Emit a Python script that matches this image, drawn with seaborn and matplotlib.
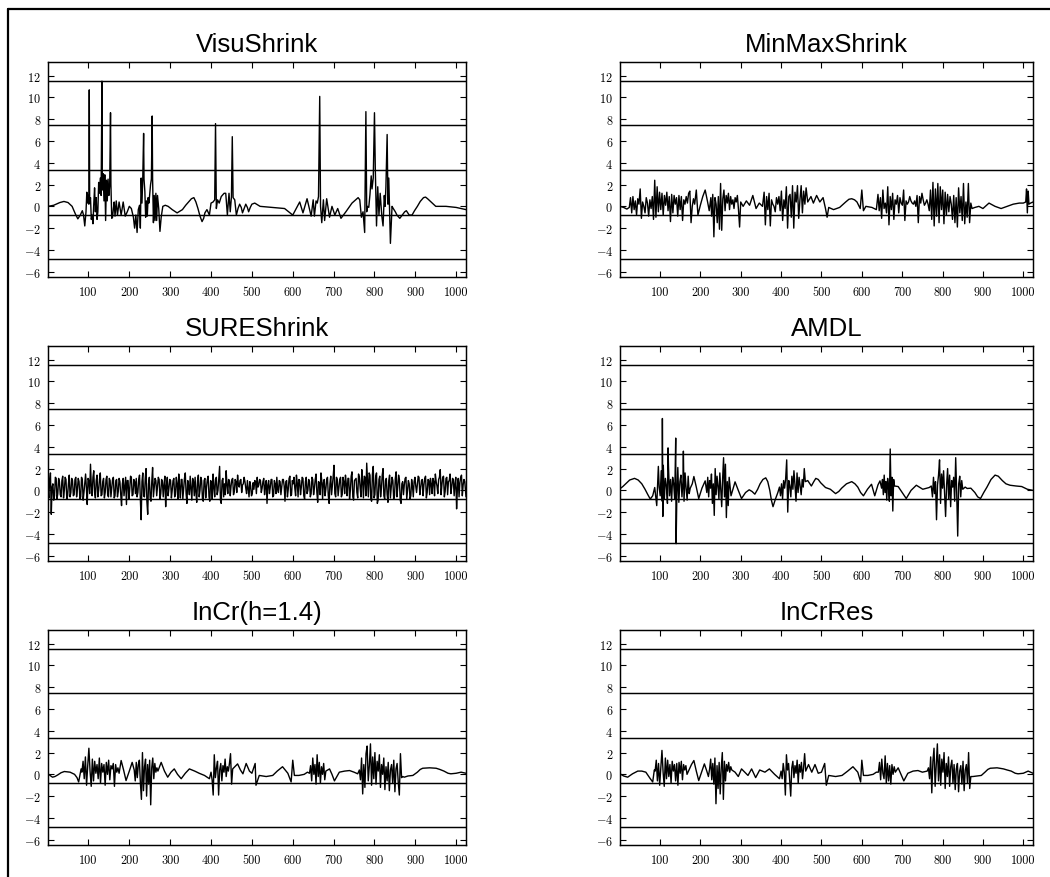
import numpy as np
import matplotlib
matplotlib.use("Agg")
import matplotlib.pyplot as plt
from matplotlib.lines import Line2D
from matplotlib.ticker import FixedLocator, FuncFormatter
import seaborn as sns

# ---------------------------------------------------------------- data
TITLES = ["VisuShrink", "MinMaxShrink", "SUREShrink", "AMDL", "InCr(h=1.4)", "InCrRes"]

# horizontal reference levels drawn across every panel
LEVELS = [-4.85, -0.75, 3.35, 7.45, 11.55]

X_TICKS = [100, 200, 300, 400, 500, 600, 700, 800, 900, 1000]
Y_TICKS = [-6, -4, -2, 0, 2, 4, 6, 8, 10, 12]

# Each estimate: explicit (x, y) knots plus dense bursts given as (x_start, x_end, values)
VISU_KNOTS = [
    (1, 0.0), (15, 0.1), (30, 0.35), (40, 0.45), (50, 0.35), (60, 0.0), (68, -0.7), (74, -1.15),
    (80, -0.8), (85, -0.4), (88, -0.8), (91, -1.8), (94, -0.5), (96, 1.3), (98, 0.3), (100, 1.0),
    (101, 0.2), (102, 10.7), (103, 0.3), (105, 0.8), (107, -1.2), (109, -0.8), (111, -1.6),
    (113, 0.2), (115, 1.7), (117, -0.5), (119, 0.8), (121, -1.2), (123, -0.5), (125, 2.2),
    (127, 1.2), (129, 2.6), (131, 1.0), (133, 11.5), (134, 1.5), (136, 3.0), (138, 0.5),
    (140, 2.9), (142, -1.3), (144, 2.4), (146, 0.5), (148, 2.5), (150, 1.0), (152, 2.0),
    (154, 8.6), (155, 2.0), (157, -1.1), (159, -1.0), (161, -0.2), (163, 0.4), (165, -0.9),
    (168, 0.5), (171, -0.8), (175, 0.4), (180, -0.8), (185, 0.4), (190, -0.9), (195, -0.5),
    (200, 0.0), (205, -0.2), (210, -1.0), (213, -2.0), (216, -0.8), (219, -2.4), (222, -0.3),
    (225, 0.1), (227, -2.0), (229, 2.6), (231, 0.3), (233, 2.7), (235, 6.7), (236, 2.5),
    (238, 1.4), (240, -1.0), (242, 0.5), (244, -0.9), (246, 0.8), (248, 0.3), (250, 1.2),
    (252, 2.0), (254, 2.5), (256, 8.3), (257, 2.5), (259, -1.5), (261, 1.0), (263, -1.3),
    (265, 1.2), (267, -1.3), (269, 1.0), (272, -0.2), (275, -2.3), (278, -1.0), (282, 0.0),
    (288, 0.1), (295, 0.0), (305, -0.3), (317, -0.6), (330, -0.3), (338, 0.1), (345, 0.4),
    (352, 0.7), (358, 0.8), (363, 0.4), (368, -0.2), (373, -0.9), (378, -1.4), (382, -1.1),
    (385, -0.6), (390, -0.3), (396, -0.8), (400, 0.3), (405, 0.4),
    (409, 0.6), (411, 7.6), (413, -0.2), (416, 0.6), (420, 0.3), (425, 0.9), (432, 1.2),
    (436, 1.2), (440, -0.8), (444, 1.2), (447, -0.5), (450, 0.9), (452, 6.4), (454, 0.8),
    (458, 0.6), (462, -0.8), (466, -0.2), (470, 0.2), (474, -0.1), (477, -0.6), (481, -0.2),
    (485, 0.2), (489, -0.1), (492, -0.5), (496, -0.1), (500, 0.2),
    (507, 0.3), (520, 0.0), (550, -0.1), (580, -0.2), (600, -0.8), (610, -0.1), (617, 0.4),
    (625, -0.6), (635, 0.7), (645, -0.9), (650, 0.6), (653, -0.9), (657, 0.5), (660, 0.3),
    (663, 0.9), (666, 10.1), (668, 0.0), (671, -1.5), (675, 0.6), (678, -1.3), (683, 0.7),
    (690, -1.0), (696, 0.0), (703, -0.8), (710, -0.2), (718, -1.1), (730, -0.5), (745, 0.3),
    (760, 0.8), (764, 0.6), (768, -1.0), (772, -0.5), (776, -2.4), (779, 8.7), (781, -0.5),
    (783, 0.0), (786, -0.1), (789, 1.1), (792, 2.8), (794, 1.6), (797, 2.6), (800, 8.6),
    (802, 3.5), (805, -1.8), (808, 1.8), (811, -0.8), (814, 1.2), (818, -0.9), (821, -1.8),
    (824, 1.0), (826, 0.0), (828, 1.8), (831, 6.6), (833, 0.2), (835, 2.6), (839, -3.4),
    (843, 0.0), (846, -0.2), (851, -0.5), (855, -0.8), (862, -1.1), (866, -0.9), (870, -0.7),
    (874, -0.5), (878, -0.4), (885, -0.8), (892, -0.8), (898, -0.4), (905, 0.0), (912, 0.45),
    (920, 0.8), (925, 0.85), (930, 0.7), (940, 0.35), (950, 0.0), (975, 0.0), (1000, -0.1),
    (1024, -0.3),
]
VISU_BURSTS = []

MINMAX_KNOTS = [
    (1, 0.0), (10, -0.1), (18, -0.25), (24, -0.1),
    (186, 0.2), (190, 1.5), (194, -0.8), (200, 0.1), (206, 0.9), (212, 1.5), (218, 0.4),
    (222, -0.4), (226, 0.8),
    (306, 0.0), (314, 0.5), (322, 0.1), (330, 1.0), (338, -0.2), (346, 0.3), (354, 0.0),
    (466, 0.4), (474, 0.9), (480, 0.3), (488, 1.0), (496, 0.4), (504, 0.8), (510, -0.2),
    (514, -1.0), (518, -0.1), (530, -0.3), (545, -0.1), (560, 0.4), (568, 0.65), (575, 0.7),
    (582, 0.6), (588, 0.4),
    (596, -0.2), (600, 1.5), (604, -0.4), (610, 0.0), (625, -0.1), (636, -0.3),
    (880, -0.1), (890, 0.0), (900, -0.2), (915, 0.3), (930, 0.0), (945, -0.2), (960, 0.0),
    (975, 0.2), (990, 0.3), (1000, 0.3), (1006, 0.4), (1008, 1.6), (1010, -0.6), (1012, 1.4),
    (1014, 0.2), (1018, 0.3), (1024, 0.4),
]
MINMAX_BURSTS = [
    (27, 183, [0.8, -0.6, 0.9, -0.3, 0.5, -0.8, 0.7, 0.2, 1.6, -1.1, 0.4, 0.0, -0.6, 0.8, 0.3,
               -0.9, 0.6, -0.2, 0.9, -1.2, 2.4, -1.0, 1.8, -0.5, 1.3, -0.3, 1.2, -0.8, 1.0, 0.1,
               1.3, -0.4, 0.9, -1.4, 1.1, -0.6, 1.0, 0.2, 0.8, -0.9, 1.0, -0.3, 0.9, -1.3, 0.6,
               0.2, 0.9, 0.3, 1.2, 1.4, -1.5, 0.0, 0.7]),
    (228, 300, [-0.9, 1.1, -2.8, 0.8, 0.2, -1.5, 0.9, -2.1, 2.1, -2.2, 0.7, 1.5, -0.4, 1.0, 0.3,
                1.2, -0.3, 0.9, 0.2, 0.6, -0.2, 0.8, 0.4, 1.0, -0.3, -1.9, 0.4]),
    (358, 462, [1.3, -1.7, 0.9, -0.3, 1.2, -1.8, 0.6, 0.2, 0.0, -0.5, 0.8, 0.2, 0.9, -0.4, 1.4,
                -1.3, 0.6, -0.2, 1.8, -2.0, 0.9, 1.1, -1.0, 1.9, -2.0, 1.3, 0.4, 1.9, -1.1, 0.6,
                1.9, -0.6, 1.4, 0.2, 1.7]),
    (640, 873, [1.1, -0.4, 0.8, -1.1, 1.5, -0.2, 0.3, -0.6, 1.8, -1.7, 0.9, -0.3, 1.2, -1.2, 0.6,
                0.2, 1.0, -0.6, 0.8, 0.3, 0.1, 1.5, -1.3, 0.5, 0.2, 0.4, 0.9, 0.5, 0.3, 0.2, 0.5,
                0.0, 1.0, -1.5, 0.9, 0.3, 1.2, 0.6, 0.1, 0.3, 0.6, 0.2, -0.4, 1.5, -1.2, 2.2,
                -1.8, 1.6, -0.9, 2.1, -1.5, 1.8, -0.3, 1.5, -1.6, 1.3, -0.8, 1.1, -0.5, 0.9, 0.2,
                -1.2, 1.0, -1.5, 0.8, -1.9, 1.7, -0.6, 0.9, -1.3, 2.1, -1.6, 0.4, -1.0, 2.1, -1.5,
                0.3, -0.2]),
]

SURE_KNOTS = [(1024, -0.6)]
SURE_BURSTS = [
    (1, 1021, [
        0.2, 0.9, -2.2, 0.6, -0.5, 1.1, -0.3, 0.8, -0.6, 1.3, 0.0, 1.0, -0.5, 1.4, -0.2, 0.9,
        -0.4, 1.2, 0.1, 0.8, -0.6, 1.0, -0.2, 1.5, -1.3, 0.9, 2.4, -0.5, 1.8, -0.7, 1.4, 0.0,
        1.6, -0.4, 1.1, -0.2, 1.3, -0.6, 0.9, 0.2, 1.2, -0.5, 1.0, -0.1, 0.8, -1.4, 1.1, 0.3,
        -1.3, 0.9, 0.1, 1.2, -0.4, 0.8, 1.1, -0.2, 1.4, -2.7, 1.6, -0.6, 2.0, -2.2, 1.2, -1.0,
        2.1, 0.3, 0.9, 0.4, 1.0, -0.3, 0.8, 0.5, -1.5, 1.2, 0.2, 0.9, 0.0, 1.1, -0.4, 0.6,
        1.5, -0.7, 1.0, 0.2, 1.6, -1.2, 0.4, 1.3, -0.9, 0.8, 1.2, -1.1, 1.4, 0.0, 0.9, -1.0,
        1.1, 0.3, 1.3, -1.0, 0.7, 1.5, -0.6, 1.2, 0.0, 2.2, -1.2, 1.1, 0.6, 1.8, -0.3, 0.9,
        0.4, 1.1, -0.1, 0.8, 1.4, 0.3, 1.0, 0.5, 1.2, 0.2, 0.9, -0.6, 0.4, -0.3, 0.1, 0.8,
        1.2, 0.5, 0.9, 0.2, 1.1, 0.4, -1.2, 0.9, 0.3, 1.0, -0.5, 0.6, 1.2, -0.2, 0.8, 0.3,
        1.0, -1.0, 0.9, 0.1, 1.3, -0.4, 0.6, 0.2, 1.4, -0.6, 0.9, 0.3, 1.1, -0.8, 1.2, 0.0,
        0.8, -0.3, 1.0, 0.2, 1.5, -1.1, 0.7, 1.6, -0.8, 1.0, 0.1, 1.2, -1.2, 1.3, 0.4, 2.3,
        -0.6, 1.0, 0.3, 1.2, -0.4, 0.8, 1.4, -0.5, 1.1, 0.0, 1.7, -0.9, 1.0, -0.2, 1.5, 0.2,
        1.9, -0.7, 1.2, 2.5, -0.6, 1.4, -1.0, 2.2, -0.4, 1.6, -0.9, 1.3, 0.2, 2.0, -0.8, 1.1,
        -1.1, 1.4, 0.2, 0.9, -0.5, 1.7, 0.3, 1.0, -1.2, 0.8, 0.5, 1.2, 0.1, 0.6, -0.5, 0.4,
        0.8, 0.4, 0.6, 1.2, 0.2, 1.0, 0.5, 1.3, -0.2, 0.9, 1.1, -0.3, 0.8, 1.5, 0.4, 1.0,
        1.9, 0.5, 1.3, -0.1, 1.2, 0.8, 1.5, 0.3, 1.0, 0.6, -1.7, 1.1, 0.7, 1.4, 0.5, 0.8,
    ]),
    (3, 1023, [
        -0.7, 1.6, 0.3, -0.9, 1.2, -0.8, 1.1, -0.4, 0.9, -0.7, 1.2, -0.8, 0.6, -0.6, 1.1, -0.5,
        1.0, -0.6, 1.1, -0.8, 1.2, -0.9, 0.7, 0.2, 1.1, -0.3, 0.4, 1.2, -0.2, 0.9, -0.6, 1.0,
        -0.5, 0.8, -0.7, 1.0, -0.4, 1.1, -0.6, 1.0, -0.7, 0.9, -0.6, 1.1, -0.4, 0.6, -0.5, 1.2,
        0.9, -0.8, 1.3, -0.5, 1.0, -0.3, -0.6, 1.0, -0.8, 0.8, -0.5, 1.1, -1.0, 0.6, -0.7, 0.8,
        -0.6, 1.1, -0.5, 1.2, -0.8, 1.0, -0.6, 1.3, 0.4, -0.5, 1.0, -0.7, 0.9, -0.6, 1.2, -0.8,
        0.3, 1.0, -0.8, 1.1, -0.3, 0.9, -0.4, 0.2, 1.1, -0.5, -0.2, 0.9, -0.6, 1.2, -0.8, 0.9,
        -0.7, 1.0, -0.6, 0.9, -0.8, 0.3, 1.0, -0.4, 1.1, -0.9, 0.9, -0.6, -0.4, 0.5, 1.0, -0.5,
        1.0, -0.4, 1.0, -0.2, 0.5, 0.9, -0.2, 0.6, 0.8, -0.3, 0.1, 0.8, -0.5, 0.7, 0.9, -0.3,
        0.3, 1.0, -0.2, 0.8, -0.4, 0.9, 0.5, -0.3, 1.0, -0.6, 0.9, -0.3, 0.1, 0.9, -0.4, 1.0,
        0.4, 0.8, -0.6, 1.1, -0.5, 0.9, 1.2, -0.5, 0.7, 1.0, -0.4, 1.2, -0.5, 0.8, -0.3, 1.0,
        -0.6, 1.2, -0.4, 1.0, -0.2, 0.8, -0.4, 0.9, 0.7, -0.5, 1.0, -0.5, 0.6, -0.4, 1.3, -0.3,
        1.2, -0.5, 1.0, -0.6, 1.2, -0.3, 0.6, 1.1, -0.8, 1.3, -0.6, 0.9, 1.1, -0.7, 1.2, -0.6,
        0.8, 1.3, -0.5, 1.0, 1.6, -0.8, 1.5, -0.7, 1.3, -1.2, 1.0, -0.6, 1.4, -0.5, 0.9, -0.4,
        0.9, -0.7, 1.2, -0.8, 1.1, -0.6, 1.4, -0.9, 0.6, -0.4, 1.1, -0.8, 0.9, -0.8, 1.0, -0.6,
        1.2, -0.2, 1.3, -0.4, 0.9, -0.5, 1.1, -0.7, 1.0, -0.4, 0.6, 1.1, -0.5, 0.8, -0.3, 1.2,
        -0.4, 1.2, -0.6, 1.1, -0.4, 0.9, -0.3, 1.1, -0.5, 1.2, 0.2, -0.6, 1.2, -0.5, 1.0, -0.2,
    ]),
]

AMDL_KNOTS = [
    (1, 0.15), (8, 0.35), (15, 0.6), (25, 0.95), (37, 1.1), (46, 0.95), (55, 0.6), (63, 0.1),
    (70, -0.4), (76, -0.8), (82, -0.5), (87, 0.26),
    (92, -1.4), (96, 2.2), (106, 6.6), (107, -2.4), (120, 3.9), (139, 4.8), (140, -4.9),
    (158, 3.6),
    (180, 0.6), (184, 1.27), (190, 0.3), (196, -0.75), (204, 0.2), (212, 0.87),
    (286, 0.78), (294, 0.0), (302, -0.75), (312, -0.2), (321, 0.05), (328, -0.1), (335, -0.35),
    (342, 0.1), (348, 0.6), (355, 1.0), (362, 1.15), (367, 0.8), (372, 0.0), (376, -0.9),
    (380, -1.5), (386, -0.8), (392, -0.2),
    (466, 0.9), (475, 0.4), (481, 0.8), (486, 1.1), (492, 1.0), (498, 0.7), (510, 0.26),
    (522, 0.1), (535, -0.3), (543, -0.1), (550, 0.2), (562, 0.6), (575, 0.8), (583, 0.6),
    (590, 0.3), (597, -0.2), (604, -0.5), (614, 0.1), (624, 0.56), (632, -0.5),
    (640, 0.5), (645, 0.87),
    (690, 0.35), (700, -0.2), (710, -0.75), (722, 0.0), (735, 0.47), (751, 0.1), (767, 0.26),
    (772, 0.4),
    (856, 0.3), (861, 0.17), (870, 0.2), (880, -0.2), (887, -0.6), (894, -0.75), (902, -0.2),
    (910, 0.3), (920, 1.0), (930, 1.4), (938, 1.3), (948, 0.9), (957, 0.6), (967, 0.47),
    (982, 0.4), (996, 0.35), (1010, 0.1), (1024, 0.0),
]
AMDL_BURSTS = [
    (98, 175, [0.3, -0.5, 1.8, -1.0, 2.3, -0.8, 1.1, 0.4, -1.2, 2.2, -0.5, 1.0, -1.0, 1.2, 0.6,
               -0.8, 3.2, -0.9, 2.1, -1.1, 0.8, 1.4, -0.6, 0.9, -1.0, 1.6, 0.2, -0.9, 1.3, -0.3,
               0.2]),
    (216, 276, [-0.2, 1.2, -0.6, 0.9, 0.2, 1.5, -1.2, 0.6, -2.3, 2.0, -0.4, 1.3, 0.4, -0.8, 1.6,
                0.1, -1.5, 1.1, 3.0, -0.6, 2.4, -2.5, 0.8, -1.4, 1.2, 0.3, -0.5]),
    (396, 460, [0.3, -0.5, 0.6, -0.8, 0.9, 0.2, 1.1, 2.8, -2.0, 0.9, 0.4, -0.6, 1.3, 0.1, 1.8,
                0.5, -1.0, 1.6, -0.2, 1.2, 0.4, -0.4, 1.0, 0.3, 2.0, 0.8]),
    (649, 681, [0.2, 1.0, -0.4, 1.4, -0.2, 0.8, -0.9, 1.1, 0.3, -1.0, 3.8, -0.5, 1.2, -1.9, 1.0,
                0.4]),
    (775, 850, [-0.6, 1.2, -0.3, 0.8, -2.7, 0.5, 1.4, 2.8, -1.2, 1.5, 0.2, 1.8, -0.4, -2.4, 0.5,
                2.0, -0.8, 1.4, -1.5, 0.9, 0.3, 1.2, -1.0, 3.0, -0.2, -4.2, 0.6, 1.3, -0.6, 0.9,
                0.1]),
]

INCR_KNOTS = [
    (1, 0.05), (6, -0.1), (12, -0.26), (18, -0.2), (25, -0.05), (33, 0.15), (41, 0.26),
    (55, 0.2), (66, 0.0), (72, -0.3), (76, -0.7), (82, 0.5),
    (180, 1.27), (186, 0.4), (192, -0.57), (200, 0.3), (207, 1.1),
    (278, 1.1), (286, 0.3), (294, -0.26), (302, 0.2), (310, 0.5), (318, 0.0), (327, -0.4),
    (337, 0.1), (347, 0.5), (360, 0.3), (371, 0.1), (384, -0.1), (396, -0.4),
    (465, 0.96), (472, 0.4), (478, 0.05), (486, 1.0), (494, 0.3), (500, 0.1), (508, 1.0),
    (510, -1.0), (518, -0.1), (535, -0.2), (551, -0.1), (562, 0.3), (575, 0.7), (588, 0.1),
    (596, -0.7), (600, 1.3), (604, -0.1), (615, -0.1), (628, 0.0), (636, 0.2),
    (690, 0.5), (696, 0.0), (702, -0.6), (714, 0.2), (727, 0.3), (739, 0.35), (750, 0.2),
    (759, 0.05),
    (873, -0.26), (882, -0.15), (894, -0.1), (905, 0.2), (912, 0.45), (918, 0.56), (935, 0.6),
    (951, 0.56), (960, 0.45), (970, 0.3), (980, 0.1), (987, 0.05), (1000, 0.1), (1012, 0.2),
    (1024, 0.1),
]
INCR_BURSTS = [
    (84, 175, [0.2, 1.2, -0.4, 1.6, -1.0, 0.8, 2.4, 0.3, -1.1, 1.4, -0.6, 1.2, 0.1, 0.9, -0.4,
               1.5, -0.8, 1.0, 0.2, 0.9, -1.0, 1.1, 0.0, 1.3, -0.5, 0.8, 0.5, 1.0, -1.1, 0.9,
               0.2, 0.6, 0.1]),
    (212, 270, [0.4, -0.6, 1.1, -0.3, 0.9, 1.3, -0.8, -2.3, 2.0, -1.5, 0.7, 1.4, -2.0, 0.9, -0.9,
                1.3, -2.8, 0.6, 1.5, -0.4, 1.0, 0.2, 0.6, 0.3]),
    (400, 453, [0.2, -0.5, -1.9, 1.8, -0.3, 0.6, 1.2, -1.9, 0.4, 1.0, -0.6, 0.8, 0.2, 1.4, -0.2,
                0.7, 0.3, 1.0, 1.9, -0.9, 0.5]),
    (641, 681, [0.1, 0.8, -0.6, 1.5, 0.0, 0.9, -0.9, 1.8, -0.2, 1.1, -0.8, 0.7, 0.0, 1.0, -0.5,
                0.3]),
    (763, 869, [0.4, -0.5, 1.5, -1.8, 0.9, -1.2, 1.9, 2.6, -0.6, 0.8, 2.8, -1.0, 1.6, -0.4, 2.0,
                -0.9, 1.2, 0.3, 1.8, -1.2, 0.9, 0.0, 1.5, -1.4, 0.7, -0.6, 1.1, -1.5, 0.4, 0.9,
                -0.8, 1.3, -1.6, 0.5, 1.0, -0.7, -1.9, 1.9, -0.3, -0.2]),
]

INCRRES_KNOTS = [
    (1, 0.05), (10, -0.15), (20, -0.26), (32, 0.05), (45, 0.3), (55, 0.3), (65, 0.2),
    (76, -0.4), (82, -0.7), (86, 0.4),
    (172, 0.4), (178, 0.9), (184, 1.27), (190, 0.3), (196, -0.57), (203, 0.2), (210, 0.96),
    (216, 0.3), (220, -0.2),
    (286, 0.2), (294, -0.2), (302, 0.5), (310, 0.2), (318, -0.1), (327, 0.5), (337, -0.3),
    (347, 0.4), (360, 0.2), (371, 0.5), (384, 0.0), (396, -0.4),
    (468, 0.9), (476, 0.2), (484, 0.9), (492, 0.1), (500, 0.2), (508, 1.0), (512, -1.0),
    (518, -0.1), (535, -0.2), (551, -0.1), (565, 0.3), (578, 0.7), (590, 0.2), (597, -0.7),
    (600, 1.3), (604, -0.1), (615, -0.1), (628, 0.0), (636, 0.2),
    (690, 0.6), (697, 0.0), (704, -0.6), (714, 0.1), (727, 0.3), (739, 0.35), (750, 0.2),
    (762, 0.3),
    (875, -0.2), (885, -0.15), (896, -0.1), (905, 0.2), (912, 0.45), (918, 0.56), (935, 0.6),
    (951, 0.5), (960, 0.4), (970, 0.3), (980, 0.1), (987, 0.05), (1000, 0.1), (1012, 0.3),
    (1024, 0.1),
]
INCRRES_BURSTS = [
    (88, 167, [0.3, 1.3, -0.6, 1.0, -1.0, 0.6, 2.2, 0.2, -1.1, 1.5, -0.4, 1.3, -0.2, 0.9, -0.8,
               1.2, 0.3, 0.9, -0.6, 1.0, -1.0, 1.1, 0.1, 1.2, -0.5, 0.9, 0.4, 0.8, 0.0]),
    (223, 278, [0.5, 1.4, -0.5, 1.0, -0.9, 1.5, -2.7, 0.8, -1.3, 1.1, -1.8, 0.6, 2.0, -2.3, 1.2,
                -0.6, 0.9, 0.3, 1.1, 0.2, 0.7, 0.4]),
    (400, 461, [0.3, -0.4, 1.0, 0.2, -1.9, 1.8, 0.4, 1.0, -0.5, -2.0, 0.6, 1.2, -0.3, 0.8, 0.1,
                1.3, -0.8, 0.9, 0.2, 1.1, -0.4, 0.6, 1.9, 0.3]),
    (641, 683, [0.2, 1.1, -0.5, 1.4, 0.1, -0.4, 1.7, -0.8, 1.0, -0.6, 0.8, -0.9, 0.9, 0.0, 0.7,
                0.2]),
    (765, 870, [0.6, -0.4, 1.6, -1.7, 1.2, 2.4, -1.1, 0.8, 2.8, -0.6, 1.8, -1.0, 1.4, 0.2, 2.0,
                -1.3, 1.0, -0.2, 1.6, -1.1, 0.7, 1.3, -0.8, 0.9, -1.4, 0.5, 1.0, -1.6, 0.3, 0.8,
                -0.9, 1.2, -1.5, 0.4, 0.9, -0.8, 2.0, -1.3, -0.2]),
]

PANELS = [
    (VISU_KNOTS, VISU_BURSTS),
    (MINMAX_KNOTS, MINMAX_BURSTS),
    (SURE_KNOTS, SURE_BURSTS),
    (AMDL_KNOTS, AMDL_BURSTS),
    (INCR_KNOTS, INCR_BURSTS),
    (INCRRES_KNOTS, INCRRES_BURSTS),
]


def assemble(knots, bursts):
    xs = [k[0] for k in knots]
    ys = [k[1] for k in knots]
    for x0, x1, vals in bursts:
        xs.extend(np.linspace(x0, x1, len(vals)))
        ys.extend(vals)
    xs = np.asarray(xs, dtype=float)
    ys = np.asarray(ys, dtype=float)
    order = np.argsort(xs, kind="stable")
    return xs[order], ys[order]


# ---------------------------------------------------------------- style
sns.set_theme(style="ticks")
plt.rcParams["font.family"] = ["Liberation Sans", "DejaVu Sans"]
plt.rcParams["mathtext.fontset"] = "cm"

W, H = 1050, 878
fig = plt.figure(figsize=(W / 100, H / 100), dpi=100)
fig.patch.set_facecolor("white")

# panel boxes in pixels: (left, top, width, height)
COL_LEFT = [48, 620]
COL_WIDTH = [418, 413]
ROW_TOP = [63, 347, 631]
AX_H = 215

x_fmt = FuncFormatter(lambda v, p: f"{int(round(v))}")
y_fmt = FuncFormatter(lambda v, p: f"${int(round(v))}$")

for i, (title, (knots, bursts)) in enumerate(zip(TITLES, PANELS)):
    r, c = divmod(i, 2)
    left, top, w = COL_LEFT[c], ROW_TOP[r], COL_WIDTH[c]
    ax = fig.add_axes([left / W, 1 - (top + AX_H) / H, w / W, AX_H / H])
    ax.set_facecolor("white")

    for lv in LEVELS:
        ax.axhline(lv, color="black", lw=1.05, zorder=1)

    xs, ys = assemble(knots, bursts)
    sns.lineplot(x=xs, y=ys, ax=ax, color="black", linewidth=1.0,
                 estimator=None, sort=False, zorder=2)

    ax.set_xlim(1, 1024)
    ax.set_ylim(-6.49, 13.26)
    ax.xaxis.set_major_locator(FixedLocator(X_TICKS))
    ax.yaxis.set_major_locator(FixedLocator(Y_TICKS))
    ax.xaxis.set_major_formatter(x_fmt)
    ax.yaxis.set_major_formatter(y_fmt)
    ax.tick_params(axis="both", direction="in", top=True, right=True,
                   length=4, width=0.8, colors="black", labelsize=8.8)
    ax.tick_params(axis="x", pad=6.5, labelfontfamily="cmr10")
    ax.tick_params(axis="y", pad=5)
    for s in ax.spines.values():
        s.set_visible(True)
        s.set_color("black")
        s.set_linewidth(1.05)
    ax.set_xlabel("")
    ax.set_ylabel("")
    ax.set_title(title, fontsize=18.5, pad=8, color="black")

# outer frame (open towards the right and bottom edges)
fx, fy = 7.5 / W, 1 - 10 / H
fig.add_artist(Line2D([fx, 1.0], [fy, fy], transform=fig.transFigure, color="black", lw=1.6))
fig.add_artist(Line2D([fx, fx], [fy, 0.0], transform=fig.transFigure, color="black", lw=1.6))

fig.savefig("out.png", dpi=100, facecolor="white")
